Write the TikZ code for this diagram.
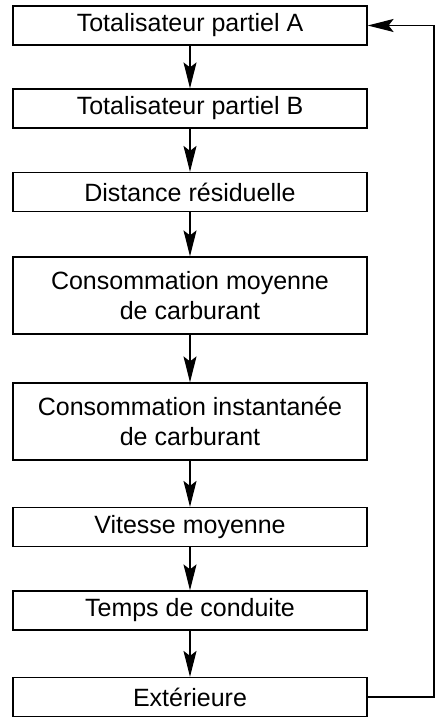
\documentclass[tikz,border=0pt]{standalone}
\usepackage{fontspec}
\setmainfont{Liberation Sans}
\usetikzlibrary{arrows.meta}

\begin{document}
\begin{tikzpicture}[x=0.5pt, y=-0.5pt,
                    line cap=butt, line join=miter,
                    box/.style={draw, line width=0.6pt, minimum width=177pt,
                                minimum height=19.5pt, inner sep=0pt, align=center,
                                font=\fontsize{12.5}{15}\selectfont},
                    tallbox/.style={box, minimum height=38.5pt},
                    flow/.style={line width=0.6pt,
                                 -{Stealth[length=13pt, width=6.5pt, inset=2.5pt]}}]
  \useasboundingbox (0,0) rectangle (437,721);

  % menu entries, top to bottom
  \node[box]     (partA) at (190,25.5)  {Totalisateur partiel A};
  \node[box]     (partB) at (190,108.5) {Totalisateur partiel B};
  \node[box]     (dist)  at (190,192)   {Distance résiduelle};
  \node[tallbox] (cmoy)  at (190,295.5) {Consommation moyenne\\de carburant};
  \node[tallbox] (cinst) at (190,421.5) {Consommation instantanée\\de carburant};
  \node[box]     (vmoy)  at (190,527)   {Vitesse moyenne};
  \node[box]     (temps) at (190,610.5) {Temps de conduite};
  \node[box]     (ext)   at (190,697)   {Extérieure};

  % arrows between entries
  \foreach \from/\to in {partA/partB, partB/dist, dist/cmoy, cmoy/cinst,
                         cinst/vmoy, vmoy/temps, temps/ext}
    \draw[flow] (\from) -- (\to);

  % back to the first entry
  \coordinate (loop) at (434,0);
  \draw[flow] (ext.east) -- (loop |- ext.east) -- (loop |- partA.east) -- (partA.east);
\end{tikzpicture}
\end{document}
